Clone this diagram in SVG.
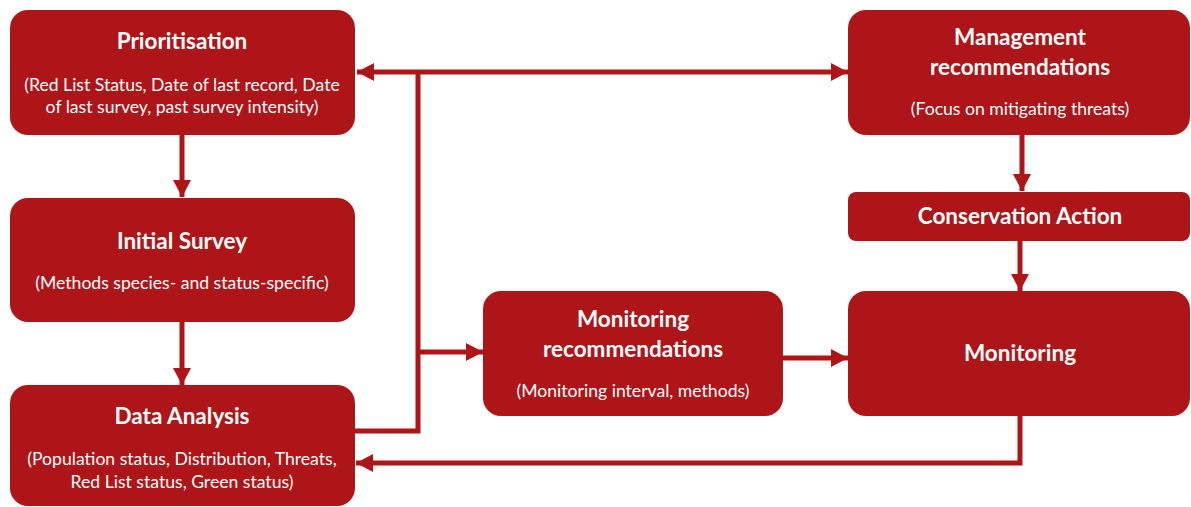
<svg xmlns="http://www.w3.org/2000/svg" width="1191" height="507" viewBox="0 0 1191 507">
<style>
.box{fill:#AE1518}
.t{font-family:Lato,"Open Sans","Liberation Sans",sans-serif;font-weight:700;font-size:22.5px;fill:#FFFFFF;text-anchor:middle}
.s{font-family:Lato,"Open Sans","Liberation Sans",sans-serif;font-weight:400;font-size:17.6px;fill:#FFFFFF;text-anchor:middle}
.c{fill:none;stroke:#AE1518;stroke-width:5}
</style>
<defs>
<marker id="ah" markerUnits="userSpaceOnUse" markerWidth="18" markerHeight="20" refX="17" refY="9" orient="auto">
<path d="M0,0 L17,9 L0,18 Z" fill="#AE1518"/>
</marker>
</defs>
<g id="connectors">
<path class="c" d="M355,431 H418 V72"/>
<path class="c" d="M418,72 H357" marker-end="url(#ah)"/>
<path class="c" d="M418,72 H848" marker-end="url(#ah)"/>
<path class="c" d="M418,352 H483" marker-end="url(#ah)"/>
<path class="c" d="M783,358 H848" marker-end="url(#ah)"/>
<path class="c" d="M182,135 V197" marker-end="url(#ah)"/>
<path class="c" d="M182,322 V385" marker-end="url(#ah)"/>
<path class="c" d="M1022,135 V191" marker-end="url(#ah)"/>
<path class="c" d="M1020,241 V291" marker-end="url(#ah)"/>
<path class="c" d="M1020,416 V463 H356" marker-end="url(#ah)"/>
</g>
<g id="prioritisation">
<rect class="box" x="10" y="10" width="345" height="125" rx="18"/>
<text class="t" x="182" y="49">Prioritisation</text>
<text class="s" x="182" y="91">(Red List Status, Date of last record, Date</text>
<text class="s" x="182" y="113">of last survey, past survey intensity)</text>
</g>
<g id="initial-survey">
<rect class="box" x="10" y="198" width="345" height="124" rx="18"/>
<text class="t" x="182" y="249">Initial Survey</text>
<text class="s" x="182" y="289">(Methods species- and status-specific)</text>
</g>
<g id="data-analysis">
<rect class="box" x="10" y="385" width="345" height="121" rx="18"/>
<text class="t" x="182" y="424">Data Analysis</text>
<text class="s" x="182" y="465">(Population status, Distribution, Threats,</text>
<text class="s" x="182" y="488">Red List status, Green status)</text>
</g>
<g id="monitoring-recommendations">
<rect class="box" x="483" y="291" width="300" height="125" rx="18"/>
<text class="t" x="633" y="327">Monitoring</text>
<text class="t" x="633" y="357">recommendations</text>
<text class="s" x="633" y="397">(Monitoring interval, methods)</text>
</g>
<g id="management-recommendations">
<rect class="box" x="848" y="10" width="342" height="125" rx="18"/>
<text class="t" x="1020" y="45">Management</text>
<text class="t" x="1020" y="75">recommendations</text>
<text class="s" x="1020" y="115">(Focus on mitigating threats)</text>
</g>
<g id="conservation-action">
<rect class="box" x="848" y="192" width="342" height="49" rx="8"/>
<text class="t" x="1020" y="224">Conservation Action</text>
</g>
<g id="monitoring">
<rect class="box" x="848" y="291" width="342" height="125" rx="18"/>
<text class="t" x="1020" y="361">Monitoring</text>
</g>
</svg>
